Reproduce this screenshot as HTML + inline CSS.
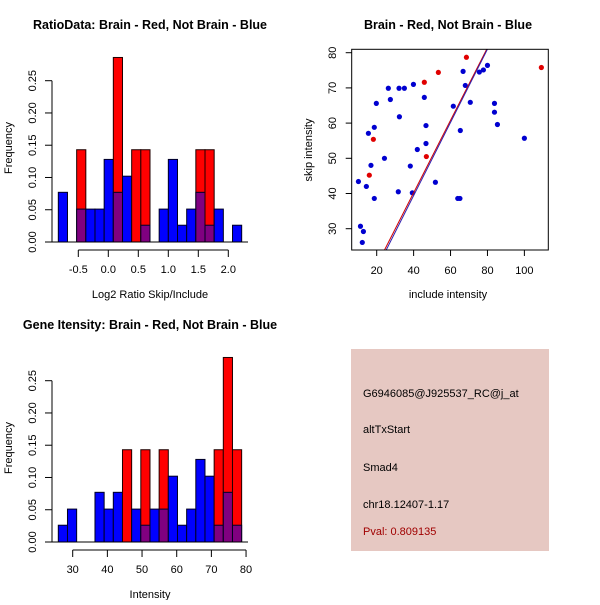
<!DOCTYPE html>
<html><head><meta charset="utf-8"><style>
html,body{margin:0;padding:0;background:#fff}
svg text{font-family:"Liberation Sans",sans-serif}
</style></head><body>
<svg id="s" width="600" height="600" viewBox="0 0 600 600" xmlns="http://www.w3.org/2000/svg">
<rect width="600" height="600" fill="#fff"/>
<g id="h1"></g>
<g id="sc"></g>
<g id="h2"></g>
<g>
<rect x="351" y="349" width="198" height="202" fill="#e6c8c2"/>
<text x="363" y="397" font-size="11" fill="#000">G6946085@J925537_RC@j_at</text>
<text x="363" y="433" font-size="11" fill="#000">altTxStart</text>
<text x="363" y="471" font-size="11" fill="#000">Smad4</text>
<text x="363" y="508" font-size="11" fill="#000">chr18.12407-1.17</text>
<text x="363" y="535" font-size="11" fill="#a00000">Pval: 0.809135</text>
</g>
</svg>
<script>
// Ratio histogram data
const ratioBinStart = -0.833;
const ratioBinWidth = 0.1528;
const ratioBlue = [0.077,0,0.051,0.051,0.051,0.128,0.077,0.102,0,0.026,0,0.051,0.128,0.026,0.051,0.077,0.026,0.051,0,0.026];
const ratioRed  = [0,0,0.143,0,0,0,0.286,0,0.143,0.143,0,0,0,0,0,0.143,0.143,0,0,0];
const ratioXTicks = [-0.5,0.0,0.5,1.0,1.5,2.0];
const ratioXTickLabels = ["-0.5","0.0","0.5","1.0","1.5","2.0"];
const freqTicks = [0,0.05,0.10,0.15,0.20,0.25];
const freqTickLabels = ["0.00","0.05","0.10","0.15","0.20","0.25"];
// Gene intensity histogram data
const intBinStart = 25.85;
const intBinWidth = 2.644;
const intBlue = [0.026,0.051,0,0,0.077,0.051,0.077,0,0.051,0.026,0.051,0.051,0.102,0.026,0.051,0.128,0.102,0.026,0.077,0.026];
const intRed  = [0,0,0,0,0,0,0,0.143,0,0.143,0,0.143,0,0,0,0,0,0.143,0.286,0.143];
const intXTicks = [30,40,50,60,70,80];
const intXTickLabels = ["30","40","50","60","70","80"];
// Scatter data
const blueX = [10.1,11.2,12.8,12.2,14.4,15.5,16.9,18.7,18.7,19.8,24.2,26.3,27.4,31.7,32.1,32.3,35.0,38.2,39.3,39.9,42.0,45.8,46.7,46.7,51.8,61.5,63.9,65.1,65.3,66.8,68.0,70.7,75.6,77.8,80.0,83.8,83.8,85.4,100.0];
const blueY = [43.4,30.7,29.2,26.1,42.0,57.1,48.0,58.8,38.6,65.6,50.0,69.9,66.7,40.5,69.9,61.8,69.9,47.8,40.2,71.0,52.5,67.3,59.3,54.2,43.2,64.8,38.6,38.6,57.9,74.7,70.7,65.9,74.5,75.1,76.4,65.6,63.1,59.6,55.7];
const redX = [16.0,18.2,45.8,46.9,53.4,68.6,109.2];
const redY = [45.2,55.4,71.6,50.5,74.4,78.7,75.8];
const fitLines = [{slope:1.03,intercept:-1.0,color:"#d00000"},{slope:1.04,intercept:-2.2,color:"#3020b0"}];
const scXTicks = [20,40,60,80,100];
const scYTicks = [30,40,50,60,70,80];

const NS="http://www.w3.org/2000/svg";
function mk(parent,tag,attrs,name,txt){const e=document.createElementNS(NS,tag);for(const k in attrs)e.setAttribute(k,attrs[k]);


if(txt!==undefined)e.textContent=txt;parent.appendChild(e);return e;}

function histogram(g,oy,title,xlabel,binStart,binW,blue,red,xTicks,xLabels,xScale){
  const yS=v=>oy+242-v*(161.3/0.25);
  mk(g,'text',{x:150,y:oy+29,'text-anchor':'middle','font-size':12.5,'font-weight':'bold'},'chart-title',title);
  mk(g,'line',{x1:52,x2:52,y1:yS(0),y2:yS(0.25),stroke:'#000'},'y-axis-line');
  freqTicks.forEach((t,i)=>{const y=yS(t);
    mk(g,'line',{x1:45,x2:52,y1:y,y2:y,stroke:'#000'},'y-tick');
    mk(g,'text',{x:36,y:y,'text-anchor':'middle','font-size':11,transform:`rotate(-90 36 ${y})`},'y-tick-label',freqTickLabels[i]);});
  mk(g,'text',{x:12,y:oy+148,'text-anchor':'middle','font-size':11,transform:`rotate(-90 12 ${oy+148})`},'y-axis-title','Frequency');
  for(let i=0;i<blue.length;i++){
    const x0=xScale(binStart+i*binW),x1=xScale(binStart+(i+1)*binW);
    const b=blue[i],r=red[i];
    if(r>0)mk(g,'rect',{x:x0,y:yS(r),width:x1-x0,height:yS(0)-yS(r),fill:'#ff0000',stroke:'#200000','stroke-width':1},'bar-red');
    if(b>0)mk(g,'rect',{x:x0,y:yS(b),width:x1-x0,height:yS(0)-yS(b),fill:(r>0&&b<=r)?'#800080':'#0000ff',stroke:'#000020','stroke-width':1},'bar-blue');
    if(r>0&&b>r)mk(g,'rect',{x:x0,y:yS(r),width:x1-x0,height:yS(0)-yS(r),fill:'#800080',stroke:'#000','stroke-width':1},'bar-overlap');
  }
  mk(g,'line',{x1:52,x2:248,y1:yS(0),y2:yS(0),stroke:'#000'},'baseline');
  const ya=oy+250;
  mk(g,'line',{x1:xScale(xTicks[0]),x2:xScale(xTicks[xTicks.length-1]),y1:ya,y2:ya,stroke:'#000'},'x-axis-line');
  xTicks.forEach((t,i)=>{const x=xScale(t);
    mk(g,'line',{x1:x,x2:x,y1:ya,y2:ya+7,stroke:'#000'},'x-tick');
    mk(g,'text',{x:x,y:oy+273,'text-anchor':'middle','font-size':11},'x-tick-label',xLabels[i]);});
  mk(g,'text',{x:150,y:oy+298,'text-anchor':'middle','font-size':11},'x-axis-title',xlabel);
}
histogram(document.getElementById('h1'),0,'RatioData: Brain - Red, Not Brain - Blue','Log2 Ratio Skip/Include',
  ratioBinStart,ratioBinWidth,ratioBlue,ratioRed,ratioXTicks,ratioXTickLabels,v=>78.3+(v+0.5)*60);
histogram(document.getElementById('h2'),300,'Gene Itensity: Brain - Red, Not Brain - Blue','Intensity',
  intBinStart,intBinWidth,intBlue,intRed,intXTicks,intXTickLabels,v=>72.7+(v-30)*3.467);

(function(){
  const g=document.getElementById('sc');
  const xS=v=>376.7+(v-20)*1.846, yS=v=>52.7+(80-v)*3.52;
  const L=351.7,R=548.3,T=49.3,B=250;
  mk(g,'text',{x:448,y:29,'text-anchor':'middle','font-size':12.5,'font-weight':'bold'},'chart-title','Brain - Red, Not Brain - Blue');
  const defs=mk(g,'defs',{},'defs');
  const cp=mk(defs,'clipPath',{id:'clipsc'},'clip');
  mk(cp,'rect',{x:L,y:T,width:R-L,height:B-T},'clip-rect');
  blueX.forEach((x,i)=>mk(g,'circle',{cx:xS(x),cy:yS(blueY[i]),r:2.6,fill:'#0000d0'},'point-not-brain'));
  redX.forEach((x,i)=>mk(g,'circle',{cx:xS(x),cy:yS(redY[i]),r:2.6,fill:'#e00000'},'point-brain'));
  const lg=mk(g,'g',{'clip-path':'url(#clipsc)'},'fit-lines');
  fitLines.forEach(f=>{const xa=0,xb=120;
    mk(lg,'line',{x1:xS(xa),y1:yS(f.intercept+f.slope*xa),x2:xS(xb),y2:yS(f.intercept+f.slope*xb),stroke:f.color,'stroke-width':1},'fit-line');});
  mk(g,'rect',{x:L,y:T,width:R-L,height:B-T,fill:'none',stroke:'#000'},'plot-frame');
  scXTicks.forEach(t=>{const x=xS(t);
    mk(g,'line',{x1:x,x2:x,y1:B,y2:B+6,stroke:'#000'},'x-tick');
    mk(g,'text',{x:x,y:274,'text-anchor':'middle','font-size':11},'x-tick-label',String(t));});
  scYTicks.forEach(t=>{const y=yS(t);
    mk(g,'line',{x1:L-6,x2:L,y1:y,y2:y,stroke:'#000'},'y-tick');
    mk(g,'text',{x:336,y:y,'text-anchor':'middle','font-size':11,transform:`rotate(-90 336 ${y})`},'y-tick-label',String(t));});
  mk(g,'text',{x:448,y:298,'text-anchor':'middle','font-size':11},'x-axis-title','include intensity');
  mk(g,'text',{x:312,y:150,'text-anchor':'middle','font-size':11,transform:'rotate(-90 312 150)'},'y-axis-title','skip intensity');
})();
</script>
</body></html>
